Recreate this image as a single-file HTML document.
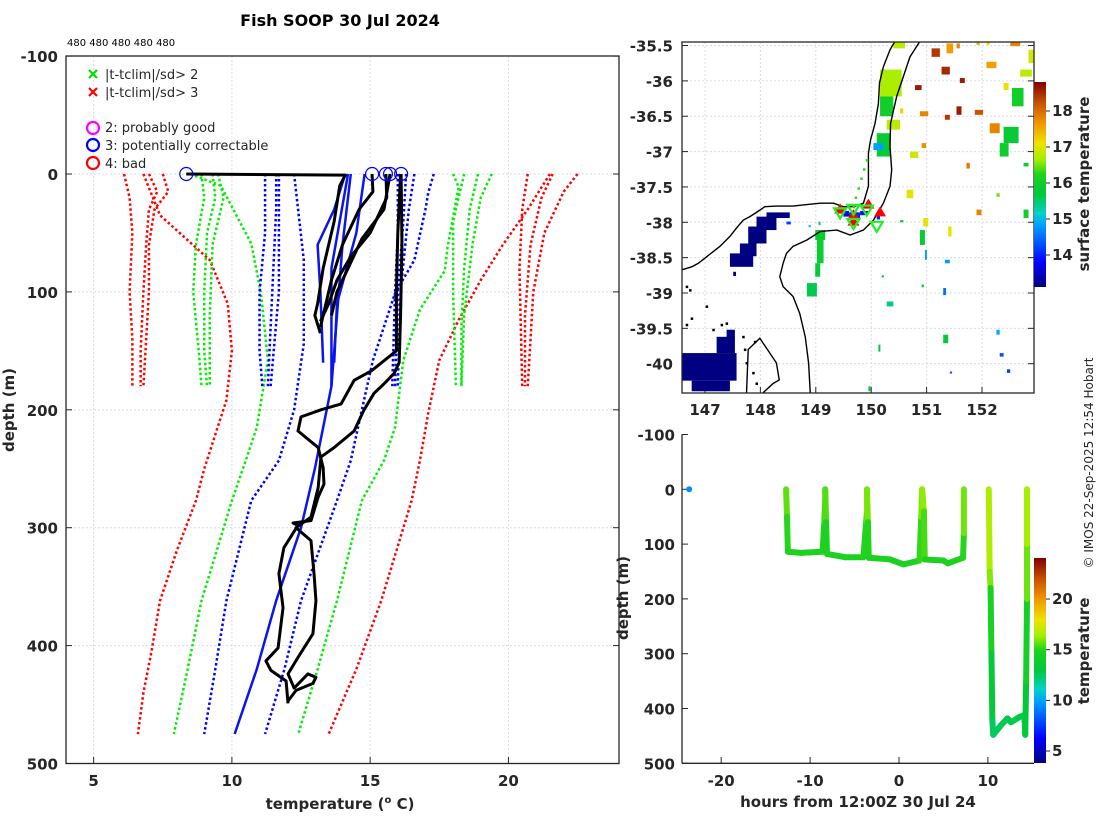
<!DOCTYPE html>
<html><head><meta charset="utf-8"><style>
body{margin:0;background:#fff;}
svg{display:block;font-family:"DejaVu Sans","Liberation Sans",sans-serif;}
.tk{font-size:15px;font-weight:bold;fill:#262626;}
.lg{font-size:13px;fill:#262626;}
</style></head><body>
<svg id="fig" width="1100" height="820" viewBox="0 0 1100 820" xmlns="http://www.w3.org/2000/svg">
<defs>
<linearGradient id="cmap" x1="0" y1="1" x2="0" y2="0">
<stop offset="0" stop-color="#000080"/><stop offset="0.12" stop-color="#0000ff"/><stop offset="0.3" stop-color="#00a0ff"/><stop offset="0.36" stop-color="#00d2c8"/><stop offset="0.45" stop-color="#00c83c"/><stop offset="0.55" stop-color="#1ed21e"/><stop offset="0.62" stop-color="#a0f000"/><stop offset="0.7" stop-color="#f0e100"/><stop offset="0.8" stop-color="#f09600"/><stop offset="0.9" stop-color="#c85000"/><stop offset="1" stop-color="#800000"/>
</linearGradient>
<clipPath id="mapclip"><rect x="682" y="42" width="352" height="351"/></clipPath>
<clipPath id="lclip"><rect x="66" y="56" width="553" height="708"/></clipPath>
</defs>
<text x="340" y="26" text-anchor="middle" font-size="16" font-weight="bold" fill="#000">Fish SOOP 30 Jul 2024</text>
<text x="67" y="46" font-size="10" fill="#000">480 480 480 480 480</text>
<g id="left"></g>
<g id="map"></g>
<g id="bot"></g>
<text transform="translate(1093,463) rotate(-90)" text-anchor="middle" font-size="12" fill="#262626">© IMOS 22-Sep-2025 12:54 Hobart</text>
</svg>
<script>
// ---------- left panel data ----------
const tempTicks=[5,10,15,20];
const depthTicks=[-100,0,100,200,300,400,500];
const redShortL1=[[0,6.1],[20,6.3],[50,6.4],[100,6.3],[140,6.4],[180,6.4]];
const redShortL2=[[0,7.0],[15,7.3],[30,7.0],[60,6.9],[100,6.8],[150,6.7],[180,6.7]];
const redShortL3=[[0,7.5],[15,7.7],[30,7.2],[60,7.0],[100,7.0],[180,6.8]];
const greenShortL1=[[0,8.9],[20,9.0],[60,8.7],[100,8.6],[150,8.8],[180,8.9]];
const greenShortL2=[[0,9.3],[20,9.4],[50,9.1],[100,9.0],[150,9.0],[180,9.1]];
const greenShortL3=[[0,9.5],[20,9.7],[60,9.3],[120,9.2],[180,9.2]];
const blueShortL1=[[0,11.2],[50,11.2],[100,11.0],[150,11.0],[180,11.1]];
const blueShortL2=[[0,11.6],[30,11.6],[80,11.5],[130,11.4],[180,11.3]];
const blueShortL3=[[0,11.7],[40,11.7],[100,11.7],[180,11.4]];
const blueShortR1=[[0,16.0],[50,16.0],[100,15.9],[180,15.8]];
const blueShortR2=[[0,16.3],[40,16.2],[100,16.0],[180,15.9]];
const blueShortR3=[[0,16.6],[30,16.4],[100,16.1],[180,16.0]];
const greenShortR1=[[0,18.4],[40,18.0],[100,18.0],[180,18.1]];
const greenShortR2=[[0,18.9],[30,18.6],[80,18.4],[130,18.3],[180,18.3]];
const greenShortR3=[[0,19.4],[20,19.0],[60,18.7],[120,18.4],[180,18.3]];
const redShortR1=[[0,20.7],[30,20.5],[80,20.4],[180,20.5]];
const redShortR2=[[0,21.6],[20,21.2],[60,20.8],[120,20.6],[180,20.6]];
const redShortR3=[[0,22.5],[15,22.0],[50,21.3],[100,20.9],[180,20.7]];
const redLongL=[[0,6.8],[35,7.4],[73,9.2],[110,9.85],[150,10.0],[192,9.8],[250,9.0],[277,8.7],[320,8.0],[362,7.4],[404,7.1],[440,6.8],[475,6.6]];
const greenLongL=[[0,8.5],[10,9.6],[59,10.7],[101,11.05],[158,11.3],[215,10.9],[243,10.5],[277,10.0],[362,8.9],[420,8.4],[475,7.9]];
const blueLongL=[[0,12.25],[73,12.6],[144,12.6],[200,12.25],[243,11.7],[277,10.7],[362,9.8],[420,9.4],[475,9.0]];
const blueLongR=[[0,17.3],[16,17.1],[30,17.0],[73,16.6],[101,15.9],[158,15.1],[200,14.7],[243,14.3],[277,13.8],[362,12.5],[420,11.9],[475,11.2]];
const greenLongR=[[0,18.0],[11,18.2],[62,17.8],[82,17.7],[115,16.8],[158,16.2],[215,15.9],[243,15.5],[277,14.7],[362,13.8],[420,13.1],[475,12.4]];
const redLongR=[[0,21.5],[30,20.7],[60,19.8],[90,19.0],[124,18.2],[158,17.5],[203,17.1],[243,16.8],[277,16.5],[362,15.4],[420,14.5],[475,13.5]];
const meanS1=[[0,14.1],[30,13.7],[60,13.1],[100,13.2],[160,13.3]];
const meanS2=[[0,14.2],[40,13.9],[80,13.6],[120,13.6],[180,13.6]];
const meanS3=[[0,14.8],[50,14.5],[110,13.8],[160,13.7]];
const meanLong=[[0,14.3],[60,14.0],[120,13.8],[180,13.6],[250,13.0],[300,12.5],[362,11.6],[420,10.9],[475,10.1]];
const obs1=[[0,8.35],[1,14.1],[10,13.9],[40,13.7],[80,13.3],[110,13.1],[120,13.0],[135,13.2]];
const obs2=[[0,15.07],[15,15.1],[30,14.6],[60,14.0],[90,13.6],[120,13.3],[130,13.2]];
const obs3=[[0,15.57],[20,15.6],[50,15.0],[70,14.3],[90,13.8],[110,13.5],[125,13.2]];
const obs4=[[0,15.72],[30,15.5],[55,14.7],[80,14.2],[100,13.8],[120,13.6]];
const obsDeepA=[[0,16.1],[50,16.0],[100,15.95],[150,15.95],[167,15.04],[175,14.42],[195,13.95],[200,13.22],[206,12.5],[218,12.39],[232,13.12],[249,13.3],[263,13.33],[274,13.12],[294,12.86],[296,12.21],[298,12.39],[317,11.88],[339,11.7],[368,11.85],[381,11.78],[402,11.67],[413,11.23],[421,11.41],[430,11.96],[449,12.03]];
const obsDeepB=[[0,16.12],[60,16.15],[120,16.1],[160,16.05],[169,15.87],[178,15.5],[186,15.14],[200,14.78],[218,14.42],[232,13.7],[240,13.22],[266,13.12],[291,12.86],[300,12.32],[311,12.86],[339,12.97],[362,13.04],[390,12.93],[410,12.39],[424,12.03],[436,12.25],[424,12.75],[427,13.04],[432,12.93],[438,12.32],[447,12.03]];
const flagTemps=[8.35,15.07,15.57,15.72,16.12];

// ---------- map data ----------
const lonTicks=[147,148,149,150,151,152];
const latTicks=[-35.5,-36,-36.5,-37,-37.5,-38,-38.5,-39,-39.5,-40];
const sstTicks=[14,15,16,17,18];
const sstCells=[
[146.59,-39.85,147.57,-40.24,13.1],[146.76,-40.24,147.45,-40.39,13.1],[147.21,-39.62,147.54,-39.85,13.1],[147.39,-39.52,147.54,-39.64,13.1],
[147.45,-38.44,147.87,-38.63,13.1],[147.63,-38.30,147.93,-38.48,13.1],[147.78,-38.06,148.11,-38.30,13.1],[147.93,-37.92,148.29,-38.11,13.1],[148.11,-37.86,148.53,-37.94,13.1],[147.51,-38.70,147.56,-38.76,13.1],
[148.47,-37.99,148.55,-38.03,14.2],
[150.16,-35.84,150.55,-36.22,16.7],[150.16,-36.22,150.40,-36.50,16.0],[150.10,-36.74,150.34,-37.07,15.8],[150.04,-36.88,150.22,-36.98,14.8],[150.28,-36.55,150.52,-36.69,16.8],[150.40,-35.44,150.61,-35.54,16.8],
[148.99,-38.11,149.17,-38.25,15.8],[149.02,-38.25,149.14,-38.58,15.9],[148.99,-38.58,149.08,-38.77,15.8],[148.84,-38.86,149.02,-39.05,15.6],
[151.27,-35.80,151.42,-35.91,18.5],[151.33,-36.48,151.42,-36.55,18.4],[151.54,-36.36,151.63,-36.48,18.6],[151.87,-36.41,152.02,-36.48,18.2],[152.14,-36.60,152.32,-36.74,17.8],[150.88,-36.43,151.03,-36.50,17.8],[150.79,-36.06,150.91,-36.13,18.6],[151.09,-35.54,151.24,-35.66,18.4],[151.36,-35.47,151.48,-35.61,17.6],[152.08,-35.73,152.26,-35.82,17.6],[152.51,-35.44,152.69,-35.51,17.8],[151.60,-35.96,151.69,-36.03,18.6],[151.72,-37.16,151.78,-37.24,17.9],[151.90,-37.82,151.99,-37.90,17.8],[150.91,-36.88,150.99,-36.95,17.7],[151.90,-35.44,151.96,-35.49,17.5],[151.54,-35.47,151.60,-35.54,17.8],
[150.64,-37.54,150.76,-37.66,17.0],[150.94,-37.94,151.03,-38.06,17.0],[151.39,-38.06,151.45,-38.20,17.1],[150.52,-36.39,150.58,-36.46,17.2],[150.70,-37.00,150.85,-37.09,16.9],[152.69,-35.84,152.90,-35.94,16.8],[152.84,-35.56,152.94,-35.75,16.9],[152.39,-36.03,152.48,-36.13,17.1],[152.08,-35.44,152.14,-35.49,17.0],
[152.54,-36.10,152.75,-36.36,16.0],[152.39,-36.65,152.66,-36.88,15.8],[152.32,-36.88,152.48,-37.07,15.9],[152.75,-37.82,152.84,-37.94,16.0],[150.88,-38.11,150.97,-38.32,15.8],[150.28,-39.12,150.40,-39.19,15.4],[151.30,-39.59,151.39,-39.71,15.7],[152.26,-37.59,152.32,-37.64,16.5],[152.75,-37.16,152.84,-37.21,16.0],[150.52,-37.97,150.58,-38.00,15.8],[150.91,-38.88,150.95,-38.92,15.7],[150.19,-38.75,150.23,-38.78,15.8],
[150.97,-38.39,151.00,-38.53,14.8],[151.33,-38.53,151.42,-38.58,14.8],[152.26,-39.52,152.32,-39.59,14.9],[152.32,-39.85,152.39,-39.90,14.3],[152.45,-40.08,152.51,-40.13,14.2],[151.30,-38.93,151.35,-39.03,14.5],[151.42,-40.11,151.46,-40.14,14.4],[149.95,-40.32,149.99,-40.39,15.6],[150.13,-39.73,150.16,-39.83,15.7],[148.87,-38.04,148.91,-38.07,15.0],[149.05,-37.99,149.08,-38.04,15.5],
[149.50,-37.84,149.60,-37.92,13.8],[149.60,-37.86,149.80,-37.96,14.0],[149.80,-37.84,149.95,-37.90,13.9],[150.10,-37.90,150.16,-37.96,14.0]];
const coastLon=[146.59,146.76,146.88,147.27,147.45,147.57,147.69,147.81,147.93,148.08,148.29,148.59,148.84,149.08,149.32,149.50,149.68,149.86,149.95,149.95,149.95,149.99,150.07,150.13,150.15,150.22,150.34,150.43];
const coastLat=[-38.67,-38.63,-38.58,-38.34,-38.20,-38.08,-37.97,-37.92,-37.86,-37.78,-37.77,-37.77,-37.75,-37.73,-37.73,-37.78,-37.78,-37.73,-37.49,-37.26,-37.02,-36.83,-36.60,-36.32,-36.03,-35.80,-35.56,-35.44];
const line2Lon=[149.08,149.38,149.62,149.86,150.04,150.22,150.34,150.37,150.34,150.35,150.46,150.58,150.70,150.88];
const line2Lat=[-38.13,-38.11,-38.18,-38.11,-37.97,-37.73,-37.49,-37.26,-36.93,-36.60,-36.22,-35.94,-35.66,-35.44];
const line3Lon=[149.08,148.84,148.59,148.47,148.41,148.35,148.41,148.59,148.71,148.81,148.87,148.90];
const line3Lat=[-38.13,-38.25,-38.34,-38.44,-38.58,-38.77,-38.91,-39.05,-39.29,-39.62,-39.99,-40.41];
const tasLon=[147.75,147.78,147.99,148.11,148.29,148.34,148.23,148.05];
const tasLat=[-40.41,-39.80,-39.64,-39.78,-39.99,-40.23,-40.28,-40.41];
const islandLon=[146.67,146.73,147.03,146.67,146.76,147.30,147.39,147.15,147.69,147.72,147.75,147.90,147.93,147.87];
const islandLat=[-38.91,-38.96,-39.19,-39.45,-39.36,-39.45,-39.43,-39.52,-39.62,-39.80,-39.99,-39.69,-40.28,-40.13];
const upTriLon=[149.44,149.68,149.95,150.16,149.68];
const upTriLat=[-37.82,-37.90,-37.75,-37.86,-37.99];
const downTriLon=[149.44,149.68,149.92,149.68,150.10];
const downTriLat=[-37.86,-37.81,-37.82,-38.01,-38.05];
const trackLon=[149.92,149.87,149.82,149.77,149.72,149.68];
const trackLat=[-37.12,-37.25,-37.38,-37.52,-37.65,-37.78];

// ---------- bottom panel data ----------
const hourTicks=[-20,-10,0,10];
const bDepthTicks=[-100,0,100,200,300,400,500];
const tempBarTicks=[5,10,15,20];
const trkHours=[-12.7,-12.6,-12.5,-11,-10,-8.6,-8.4,-8.3,-8.3,-8.2,-8.1,-6,-4,-3.7,-3.6,-3.6,-3.5,-3.4,-1,0.5,2.3,2.5,2.6,2.8,2.9,5,5.5,7.2,7.3,7.3,null,10.1,10.2,10.3,10.4,10.5,10.6,11.5,12.2,12.6,13.5,14.1,14.2,14.3,14.4,14.4,14.4];
const trkDepth=[0,50,114,116,115,114,60,20,0,60,118,124,124,60,40,0,60,125,128,137,130,50,0,40,128,130,135,125,80,0,null,0,150,180,300,420,448,430,418,425,416,412,448,350,200,100,0];
const trkTemp=[16.0,15.3,14.8,14.8,14.8,14.8,15.0,15.6,16.0,15.0,14.8,14.8,14.8,15.2,15.8,16.6,15.2,14.8,14.7,14.7,14.8,15.6,16.4,16.0,14.8,14.8,14.8,14.9,15.2,16.5,null,16.8,16.6,15.5,13.7,12.7,12.4,12.6,12.7,12.7,12.7,12.8,12.4,13.7,15.2,16.4,16.6];
const dotHours=[-23.6],dotDepth=[0],dotTemp=[9.5];

// ---------- helpers ----------
const NS='http://www.w3.org/2000/svg';
const GRID='#d8dcea';
function mk(parent,tag,attrs){const e=document.createElementNS(NS,tag);for(const k in attrs)e.setAttribute(k,attrs[k]);parent.appendChild(e);return e;}
const stops=[[0,0,0,128],[0.12,0,0,255],[0.3,0,160,255],[0.36,0,210,200],[0.45,0,200,60],[0.55,30,210,30],[0.62,160,240,0],[0.7,240,225,0],[0.8,240,150,0],[0.9,200,80,0],[1,128,0,0]];
function cmap(v){v=Math.max(0,Math.min(1,v));for(let i=1;i<stops.length;i++){if(v<=stops[i][0]){const a=stops[i-1],b=stops[i],f=(v-a[0])/(b[0]-a[0]);return `rgb(${Math.round(a[1]+f*(b[1]-a[1]))},${Math.round(a[2]+f*(b[2]-a[2]))},${Math.round(a[3]+f*(b[3]-a[3]))})`;}}return 'rgb(128,0,0)';}

// ---------- left panel ----------
const L=document.getElementById('left');
const xT=t=>66+(t-4)*27.65, yD=d=>174+d*1.179;
tempTicks.forEach(t=>{const g=mk(L,'line',{x1:xT(t),x2:xT(t),y1:56,y2:763.5,stroke:GRID,'stroke-width':1,'stroke-dasharray':'2,2'});


const tl=mk(L,'text',{x:xT(t),y:786,'text-anchor':'middle',class:'tk'});tl.textContent=t;


mk(L,'line',{x1:xT(t),x2:xT(t),y1:763.5,y2:757,stroke:'#262626'});});
depthTicks.forEach(d=>{if(d>-100&&d<500){const g=mk(L,'line',{x1:66,x2:619,y1:yD(d),y2:yD(d),stroke:GRID,'stroke-width':1,'stroke-dasharray':'2,2'});

}
const tl=mk(L,'text',{x:58,y:yD(d)+6,'text-anchor':'end',class:'tk'});tl.textContent=d;


mk(L,'line',{x1:66,x2:72,y1:yD(d),y2:yD(d),stroke:'#262626'});mk(L,'line',{x1:619,x2:613,y1:yD(d),y2:yD(d),stroke:'#262626'});});
const LP=mk(L,'g',{'clip-path':'url(#lclip)'});
function prof(arr,color,dotted,w,name){const p=mk(LP,'polyline',{points:arr.map(q=>xT(q[1])+','+yD(q[0])).join(' '),fill:'none',stroke:color,'stroke-width':w,'stroke-linejoin':'round'});
if(dotted)p.setAttribute('stroke-dasharray','2.5,2.5');

}
[redShortL1,redShortL2,redShortL3,redShortR1,redShortR2,redShortR3,redLongL,redLongR].forEach(a=>prof(a,'#ff0000',true,2.5,'clim-3sd-line'));
[greenShortL1,greenShortL2,greenShortL3,greenShortR1,greenShortR2,greenShortR3,greenLongL,greenLongR].forEach(a=>prof(a,'#00ee00',true,2.5,'clim-2sd-line'));
[blueShortL1,blueShortL2,blueShortL3,blueShortR1,blueShortR2,blueShortR3,blueLongL,blueLongR].forEach(a=>prof(a,'#0000ff',true,2.5,'clim-1sd-line'));
[meanS1,meanS2,meanS3,meanLong].forEach(a=>prof(a,'#0a14ee',false,2.5,'clim-mean-line'));
[obs1,obs2,obs3,obs4,obsDeepA,obsDeepB].forEach(a=>prof(a,'#000',false,3,'observed-profile'));
flagTemps.forEach(t=>{const c=mk(LP,'circle',{cx:xT(t),cy:yD(0),r:6.5,fill:'none',stroke:'#0000ff','stroke-width':1.2});

});
mk(L,'rect',{x:66,y:56,width:553,height:707.5,fill:'none',stroke:'#262626','stroke-width':1.3});
// legend
function xmark(x,y,c){mk(L,'path',{d:`M${x-4},${y-4}L${x+4},${y+4}M${x-4},${y+4}L${x+4},${y-4}`,stroke:c,'stroke-width':2.2});}
xmark(93,74,'#00e000');xmark(93,92,'#ff0000');
[['#ff00ff',128],['#0000ff',145],['#ff0000',163]].forEach(a=>mk(L,'circle',{cx:93,cy:a[1],r:6,fill:'none',stroke:a[0],'stroke-width':2.2}));
[['|t-tclim|/sd> 2',79,'legend-entry-2sd'],['|t-tclim|/sd> 3',97,'legend-entry-3sd'],['2: probably good',132,'legend-entry-good'],['3: potentially correctable',150,'legend-entry-correctable'],['4: bad',168,'legend-entry-bad']].forEach(a=>{const t=mk(L,'text',{x:105,y:a[1],class:'lg'});t.textContent=a[0];

});
const yl=mk(L,'text',{transform:'translate(14,410) rotate(-90)','text-anchor':'middle',class:'tk'});yl.textContent='depth (m)';


const xl=mk(L,'text',{x:340,y:809,'text-anchor':'middle',class:'tk'});xl.innerHTML='temperature (<tspan dy="-6" font-size="10">o</tspan><tspan dy="6"> C)</tspan>';



// ---------- map ----------
const M=document.getElementById('map');
const xL=lon=>682+(lon-146.585)*55.4, yL=lat=>42+(-35.45-lat)*70.7;
const sstC=v=>cmap((v-13.1)/5.7);
lonTicks.forEach(l=>{mk(M,'line',{x1:xL(l),x2:xL(l),y1:42,y2:393,stroke:GRID,'stroke-dasharray':'2,2'});
const t=mk(M,'text',{x:xL(l),y:415,'text-anchor':'middle',class:'tk'});t.textContent=l;


mk(M,'line',{x1:xL(l),x2:xL(l),y1:393,y2:387,stroke:'#262626'});});
latTicks.forEach(l=>{mk(M,'line',{x1:682,x2:1034,y1:yL(l),y2:yL(l),stroke:GRID,'stroke-dasharray':'2,2'});
const t=mk(M,'text',{x:673,y:yL(l)+6,'text-anchor':'end',class:'tk'});t.textContent=l;


mk(M,'line',{x1:682,x2:688,y1:yL(l),y2:yL(l),stroke:'#262626'});mk(M,'line',{x1:1034,x2:1028,y1:yL(l),y2:yL(l),stroke:'#262626'});});
const MP=mk(M,'g',{'clip-path':'url(#mapclip)'});
sstCells.forEach(c=>{const r=mk(MP,'rect',{x:xL(c[0]),y:yL(c[1]),width:Math.max(2,xL(c[2])-xL(c[0])),height:Math.max(2,yL(c[3])-yL(c[1])),fill:sstC(c[4])});

});
function mline(lons,lats,name){const p=mk(MP,'polyline',{points:lons.map((l,i)=>xL(l)+','+yL(lats[i])).join(' '),fill:'none',stroke:'#000','stroke-width':1.4});

}
mline(coastLon,coastLat,'coastline');mline(line2Lon,line2Lat,'shelf-line');mline(line3Lon,line3Lat,'boundary-line');mline(tasLon,tasLat,'island-coast');
islandLon.forEach((l,i)=>mk(MP,'rect',{x:xL(l)-1,y:yL(islandLat[i])-1,width:2.5,height:2.5,fill:'#000'}));
trackLon.forEach((l,i)=>mk(MP,'rect',{x:xL(l)-1,y:yL(trackLat[i])-1,width:2.5,height:2.5,fill:'#22dd22'}));
upTriLon.forEach((l,i)=>{const x=xL(l),y=yL(upTriLat[i]);const p=mk(MP,'path',{d:`M${x},${y-6}L${x+6},${y+4}L${x-6},${y+4}Z`,fill:'#ff0000'});

});
downTriLon.forEach((l,i)=>{const x=xL(l),y=yL(downTriLat[i]);const p=mk(MP,'path',{d:`M${x-6},${y-4}L${x+6},${y-4}L${x},${y+6}Z`,fill:'none',stroke:'#22ee22','stroke-width':2.2});

});
mk(M,'rect',{x:682,y:42,width:352,height:351,fill:'none',stroke:'#262626','stroke-width':1.3});
const cb1=mk(M,'rect',{x:1034,y:82,width:12,height:205,fill:'url(#cmap)'});


sstTicks.forEach(v=>{const y=255-(v-14)*36;mk(M,'line',{x1:1046,x2:1050,y1:y,y2:y,stroke:'#262626'});
const t=mk(M,'text',{x:1052,y:y+5,class:'tk'});t.textContent=v;

});
const st=mk(M,'text',{transform:'translate(1089,184) rotate(-90)','text-anchor':'middle',class:'tk'});st.textContent='surface temperature';



// ---------- bottom panel ----------
const B=document.getElementById('bot');
const xH=h=>899+h*8.89, yB=d=>489.3+d*0.548;
mk(B,'line',{x1:682,x2:1034,y1:763.3,y2:763.3,stroke:'#262626','stroke-width':1.3});
mk(B,'line',{x1:682,x2:682,y1:434.5,y2:763.3,stroke:'#262626','stroke-width':1.3});
hourTicks.forEach(h=>{mk(B,'line',{x1:xH(h),x2:xH(h),y1:763.3,y2:757,stroke:'#262626'});
const t=mk(B,'text',{x:xH(h),y:786,'text-anchor':'middle',class:'tk'});t.textContent=h;

});
bDepthTicks.forEach(d=>{mk(B,'line',{x1:682,x2:688,y1:yB(d),y2:yB(d),stroke:'#262626'});
const t=mk(B,'text',{x:675,y:yB(d)+6,'text-anchor':'end',class:'tk'});t.textContent=d;

});
const tC=v=>cmap((v-3.8)/20.3);
for(let i=1;i<trkHours.length;i++){if(trkHours[i]===null||trkHours[i-1]===null)continue;
const s=mk(B,'line',{x1:xH(trkHours[i-1]),y1:yB(trkDepth[i-1]),x2:xH(trkHours[i]),y2:yB(trkDepth[i]),stroke:tC((trkTemp[i]+trkTemp[i-1])/2),'stroke-width':6,'stroke-linecap':'round'});

}
dotHours.forEach((h,i)=>{const c=mk(B,'circle',{cx:xH(h),cy:yB(dotDepth[i]),r:3,fill:tC(dotTemp[i])});

});
const cb2=mk(B,'rect',{x:1034,y:558,width:12,height:205,fill:'url(#cmap)'});


tempBarTicks.forEach(v=>{const y=751-(v-5)*10.13;mk(B,'line',{x1:1046,x2:1050,y1:y,y2:y,stroke:'#262626'});
const t=mk(B,'text',{x:1052,y:y+5,class:'tk'});t.textContent=v;

});
const tt=mk(B,'text',{transform:'translate(1089,651) rotate(-90)','text-anchor':'middle',class:'tk'});tt.textContent='temperature';


const by=mk(B,'text',{transform:'translate(628,598) rotate(-90)','text-anchor':'middle',class:'tk'});by.textContent='depth (m)';


const bx=mk(B,'text',{x:858,y:807,'text-anchor':'middle',class:'tk'});bx.textContent='hours from 12:00Z 30 Jul 24';


</script>
</body></html>
